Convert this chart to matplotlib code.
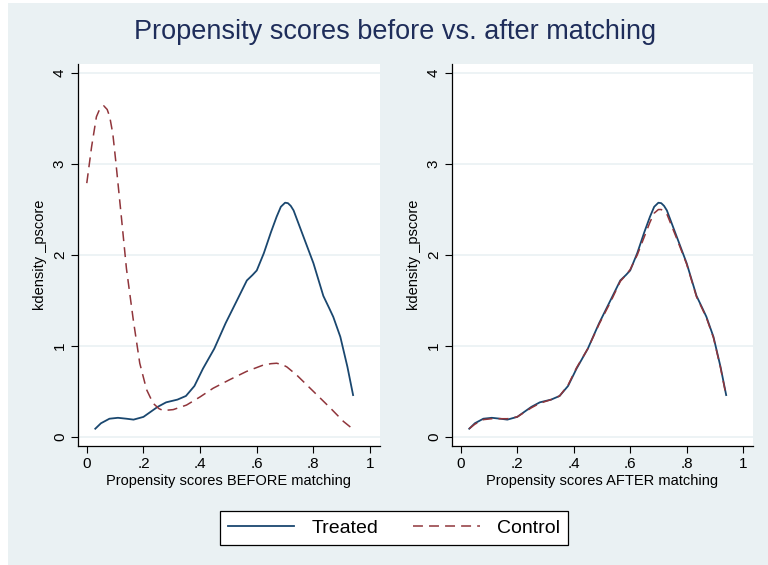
import matplotlib
matplotlib.use('Agg')
import matplotlib.pyplot as plt
from matplotlib.patches import Rectangle
from matplotlib.lines import Line2D

plt.rcParams['font.family'] = ['Liberation Sans', 'DejaVu Sans']

# kernel density of the propensity score
x_treat = [0.03, 0.05, 0.08, 0.11, 0.14, 0.165, 0.20, 0.25, 0.28, 0.32, 0.35, 0.38,
           0.41, 0.45, 0.49, 0.53, 0.565, 0.585, 0.60, 0.625, 0.65, 0.67, 0.685, 0.70,
           0.71, 0.72, 0.73, 0.765, 0.80, 0.835, 0.855, 0.87, 0.895, 0.92, 0.94]
y_treat = [0.09, 0.15, 0.20, 0.21, 0.20, 0.19, 0.22, 0.33, 0.38, 0.41, 0.45, 0.56,
           0.75, 0.97, 1.25, 1.50, 1.72, 1.78, 1.83, 2.02, 2.25, 2.42, 2.53, 2.575,
           2.57, 2.54, 2.49, 2.20, 1.91, 1.55, 1.42, 1.32, 1.10, 0.77, 0.46]

x_ctrl = [0.0, 0.017, 0.034, 0.045, 0.06, 0.072, 0.081, 0.092, 0.102, 0.122, 0.14,
          0.164, 0.187, 0.211, 0.234, 0.255, 0.27, 0.305, 0.352, 0.40, 0.446, 0.505,
          0.564, 0.623, 0.65, 0.67, 0.69, 0.706, 0.741, 0.80, 0.859, 0.906, 0.943]
y_ctrl = [2.79, 3.19, 3.52, 3.60, 3.64, 3.60, 3.52, 3.33, 3.04, 2.42, 1.85,
          1.29, 0.81, 0.52, 0.37, 0.31, 0.29, 0.30, 0.35, 0.44, 0.535, 0.63,
          0.72, 0.79, 0.805, 0.81, 0.795, 0.77, 0.68, 0.50, 0.32, 0.17, 0.077]

# matched controls
x_ctrl_m = x_treat
y_ctrl_m = [0.09, 0.14, 0.19, 0.20, 0.20, 0.20, 0.22, 0.32, 0.37, 0.41, 0.45, 0.57,
            0.76, 0.97, 1.24, 1.48, 1.71, 1.78, 1.84, 2.00, 2.20, 2.36, 2.46, 2.50,
            2.50, 2.48, 2.45, 2.18, 1.90, 1.54, 1.41, 1.31, 1.09, 0.76, 0.45]

xticks = [0, 0.2, 0.4, 0.6, 0.8, 1]
xticklabels = ['0', '.2', '.4', '.6', '.8', '1']
yticks = [0, 1, 2, 3, 4]

bg = '#EAF1F3'
navy = '#1A476F'
red = '#90353B'
dash = (0, (6.5, 4))

fig = plt.figure(figsize=(7.68, 5.65), dpi=100)
fig.patch.set_facecolor('white')
fig.patches.append(Rectangle((8/768, 0), 1 - 8/768, 1 - 3/565, transform=fig.transFigure,
                             facecolor=bg, edgecolor='none', zorder=-10))

fig.text(395/768, 1 - 32/565, 'Propensity scores before vs. after matching',
         ha='center', va='center', fontsize=19.5, color='#1E2D5A')

panels = [
    ([78/768, 119/565, 302/768, 382/565], x_ctrl, y_ctrl, 'Propensity scores BEFORE matching'),
    ([452/768, 119/565, 301/768, 382/565], x_ctrl_m, y_ctrl_m, 'Propensity scores AFTER matching'),
]
for rect, xc, yc, xlab in panels:
    ax = fig.add_axes(rect)
    ax.set_facecolor('white')
    for y in yticks:
        ax.axhline(y, color=bg, lw=1.2, zorder=0)
    ax.plot(x_treat, y_treat, color=navy, lw=1.3, zorder=3, solid_joinstyle='round')
    ax.plot(xc, yc, color=red, lw=1.1, ls=dash, zorder=4)
    ax.set_xlim(-0.031, 1.035)
    ax.set_ylim(-0.1, 4.1)
    ax.set_xticks(xticks)
    ax.set_xticklabels(xticklabels)
    ax.set_yticks(yticks)
    ax.set_yticklabels([str(v) for v in yticks], rotation=90, va='center')
    ax.tick_params(labelsize=11, length=5, width=0.8, colors='black', pad=3)
    for s in ['top', 'right']:
        ax.spines[s].set_visible(False)
    for s in ['left', 'bottom']:
        ax.spines[s].set_linewidth(0.9)
    ax.set_xlabel(xlab, fontsize=10.5, labelpad=2)
    ax.set_ylabel('kdensity _pscore', fontsize=10.5, labelpad=4)

handles = [Line2D([], [], color=navy, lw=1.3),
           Line2D([], [], color=red, lw=1.1, ls=dash)]
leg = fig.legend(handles, ['Treated', 'Control'], loc='center',
                 bbox_to_anchor=(394/768, 1 - 528/565), ncol=2, fontsize=14,
                 frameon=True, fancybox=False, handlelength=3.4, columnspacing=1.8,
                 handletextpad=0.9, borderpad=0.4)
leg.get_frame().set_edgecolor('black')
leg.get_frame().set_linewidth(0.9)
leg.get_frame().set_facecolor('white')
leg.get_frame().set_alpha(1)

fig.savefig('out.png', dpi=100, facecolor=fig.get_facecolor())
